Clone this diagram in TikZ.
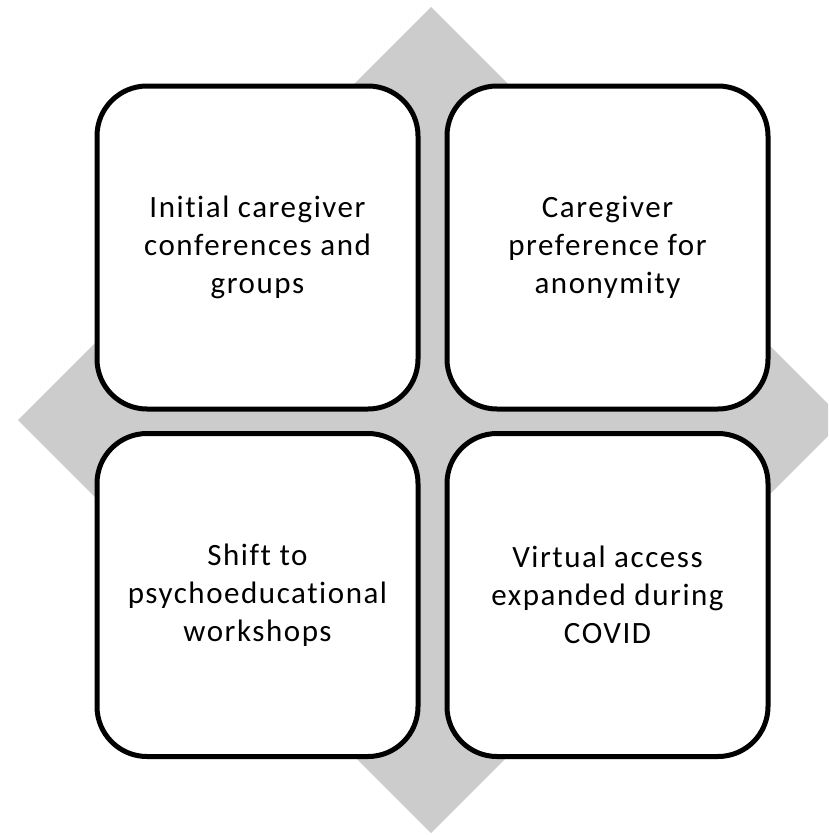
\documentclass[tikz,border=0pt]{standalone}
\usepackage{fontspec}
\setmainfont{Carlito}[Ligatures=NoCommon,LetterSpace=5]
\usetikzlibrary{positioning}
\definecolor{diamondgray}{HTML}{CCCCCC}
\tikzset{
  cardbox/.style={draw=black, line width=5pt, fill=white, rounded corners=50pt,
    minimum width=321pt, minimum height=323pt, inner sep=0pt,
    align=center, font=\fontsize{31}{38}\selectfont}
}
\begin{document}
\begin{tikzpicture}[x=1pt,y=-1pt]
% Page outline
  \useasboundingbox (0,0) rectangle (828,835);
  \clip (0,0) rectangle (828,835);
% Background diamond
  \fill[diamondgray] (431,7) -- (844,420) -- (431,833) -- (18,420) -- cycle;
% Four boxes
  \node[cardbox] (initial) at (257.5,247.5) {Initial caregiver\\conferences and\\groups};
  \node[cardbox] (anonym) at (607.5,247.5) {Caregiver\\preference for\\anonymity};
  \node[cardbox] (shift) at (257.5,595) {Shift to\\psychoeducational\\workshops};
  \node[cardbox] (virtual) at (607.5,595) {Virtual access\\expanded during\\COVID};
\end{tikzpicture}
\end{document}
